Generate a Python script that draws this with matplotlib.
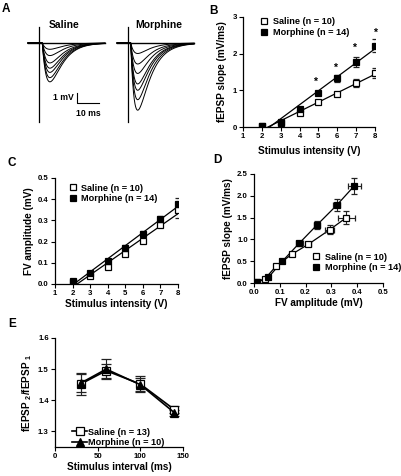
import matplotlib.pyplot as plt
import numpy as np

plt.rcParams['font.family'] = ['Liberation Sans', 'DejaVu Sans']
plt.rcParams['font.weight'] = 'bold'
plt.rcParams['axes.labelweight'] = 'bold'
plt.rcParams['mathtext.fontset'] = 'custom'
plt.rcParams['mathtext.rm'] = 'Liberation Sans:bold'
plt.rcParams['mathtext.bf'] = 'Liberation Sans:bold'

# A - peak amplitude of each example fEPSP trace (mV)
saline_peaks = [0.6, 1.2, 1.9, 2.4, 2.8, 3.3, 3.7]
morphine_peaks = [1.0, 2.0, 2.9, 3.9, 4.5, 5.4, 6.4]

# B / C - input-output curves
stim = [2, 3, 4, 5, 6, 7, 8]
slope_sal = [0.02, 0.10, 0.38, 0.67, 0.90, 1.20, 1.48]
slope_sal_err = [0.03, 0.03, 0.04, 0.04, 0.05, 0.10, 0.14]
slope_mor = [0.02, 0.15, 0.50, 0.92, 1.33, 1.78, 2.22]
slope_mor_err = [0.03, 0.03, 0.05, 0.06, 0.10, 0.14, 0.18]
star_x = [4.8, 5.9, 6.9, 8.0]
star_y = [1.22, 1.62, 2.16, 2.56]

fv_sal = [0.010, 0.040, 0.082, 0.143, 0.205, 0.280, 0.348]
fv_sal_err = [0.004, 0.005, 0.007, 0.008, 0.008, 0.012, 0.035]
fv_mor = [0.013, 0.054, 0.108, 0.168, 0.238, 0.307, 0.378]
fv_mor_err = [0.004, 0.005, 0.007, 0.014, 0.010, 0.014, 0.026]

# D - slope vs FV
d_fv_sal = [0.010, 0.043, 0.086, 0.147, 0.211, 0.293, 0.358]
d_fv_sal_err = [0.005, 0.006, 0.008, 0.008, 0.010, 0.017, 0.032]
d_sl_sal = [0.02, 0.10, 0.39, 0.66, 0.89, 1.22, 1.50]
d_fv_mor = [0.012, 0.056, 0.110, 0.175, 0.244, 0.320, 0.389]
d_fv_mor_err = [0.005, 0.006, 0.008, 0.014, 0.012, 0.014, 0.026]
d_sl_mor = [0.02, 0.13, 0.50, 0.91, 1.33, 1.78, 2.23]

# E - paired pulse ratio
interval = [30, 60, 100, 140]
ppr_sal = [1.452, 1.495, 1.452, 1.370]
ppr_sal_err = [0.035, 0.022, 0.025, 0.012]
ppr_mor = [1.455, 1.500, 1.450, 1.360]
ppr_mor_err = [0.030, 0.032, 0.020, 0.010]

W, H = 401, 476
fig = plt.figure(figsize=(W / 100, H / 100), dpi=100)


def px_axes(l, t, r, b):
    return fig.add_axes([l / W, 1 - b / H, (r - l) / W, (b - t) / H])


def style(ax):
    ax.spines['top'].set_visible(False)
    ax.spines['right'].set_visible(False)
    ax.spines['left'].set_linewidth(0.9)
    ax.spines['bottom'].set_linewidth(0.9)
    ax.tick_params(labelsize=5.6, length=3, width=0.8, pad=1.5)


ls = 7.2  # axis label size
lg = 6.6  # legend size
sal_kw = dict(fmt='s', ms=5, mfc='white', mec='black', mew=0.9, ecolor='#222222',
              elinewidth=0.8, capsize=2, capthick=0.8, zorder=3)
mor_kw = dict(fmt='s', ms=5, mfc='black', mec='black', mew=0.9, ecolor='#222222',
              elinewidth=0.8, capsize=2, capthick=0.8, zorder=3)


def fit_line(ax, x, y):
    m, b = np.polyfit(x, y, 1)
    xs = np.array([-b / m, 8])
    ax.plot(xs, m * xs + b, color='black', lw=0.9, zorder=2)


# ---- A: example traces
axA = px_axes(20, 20, 200, 125)
axA.set_xlim(-8.64, 73.2)
axA.set_ylim(-7.81, 2.19)
axA.axis('off')
t = np.linspace(-5, 30, 500)
for offset, peaks, t0, tr, td in [(0, saline_peaks, 1.5, 2.5, 5.0),
                                  (40.5, morphine_peaks, 1.2, 2.0, 5.5)]:
    tt = np.clip(t - t0, 0, None)
    g = np.exp(-tt / td) - np.exp(-tt / tr)
    g = g / g.max()
    axA.plot(t + offset, np.zeros_like(t), color='black', lw=1.0)
    for a in peaks:
        axA.plot(t + offset, -a * g, color='black', lw=0.7)
    axA.plot([offset, offset], [1.5, -7.5], color='black', lw=0.9)
axA.text(11.4, 1.7, 'Saline', ha='center', va='center', fontsize=7.5)
axA.text(54.5, 1.7, 'Morphine', ha='center', va='center', fontsize=7.5)
axA.plot([17.3, 17.3, 27.3], [-4.75, -5.75, -5.75], color='black', lw=0.8)
axA.text(16.0, -5.2, '1 mV', ha='right', va='center', fontsize=6.2)
axA.text(22.3, -6.3, '10 ms', ha='center', va='top', fontsize=6.2)

# ---- B: fEPSP slope vs stimulus
axB = px_axes(243, 17, 375, 127)
fit_line(axB, stim, slope_sal)
fit_line(axB, stim, slope_mor)
axB.errorbar(stim, slope_sal, yerr=slope_sal_err, label='Saline (n = 10)', **sal_kw)
axB.errorbar(stim, slope_mor, yerr=slope_mor_err, label='Morphine (n = 14)', **mor_kw)
for x, y in zip(star_x, star_y):
    axB.text(x, y, '*', ha='center', va='center', fontsize=7.5)
axB.set_xlim(1, 8)
axB.set_ylim(0, 3)
axB.set_xticks(range(1, 9))
axB.set_yticks([0, 1, 2, 3])
axB.set_xlabel('Stimulus intensity (V)', fontsize=ls, labelpad=4)
axB.set_ylabel('fEPSP slope (mV/ms)', fontsize=ls, labelpad=4)
style(axB)
h, l = axB.get_legend_handles_labels()
axB.legend([x[0] for x in h], l, loc='upper left', bbox_to_anchor=(0.1, 1.04), frameon=False,
           fontsize=lg, handlelength=0.8, handletextpad=0.5, borderpad=0, labelspacing=0.25)

# ---- C: FV amplitude vs stimulus
axC = px_axes(55, 178, 178, 284)
fit_line(axC, stim, fv_sal)
fit_line(axC, stim, fv_mor)
axC.errorbar(stim, fv_sal, yerr=fv_sal_err, label='Saline (n = 10)', **sal_kw)
axC.errorbar(stim, fv_mor, yerr=fv_mor_err, label='Morphine (n = 14)', **mor_kw)
axC.set_xlim(1, 8)
axC.set_ylim(0, 0.5)
axC.set_xticks(range(1, 9))
axC.set_yticks(np.arange(0, 0.51, 0.1))
axC.yaxis.set_major_formatter(plt.FormatStrFormatter('%.1f'))
axC.set_xlabel('Stimulus intensity (V)', fontsize=ls, labelpad=1)
axC.set_ylabel('FV amplitude (mV)', fontsize=ls, labelpad=3)
style(axC)
h, l = axC.get_legend_handles_labels()
axC.legend([x[0] for x in h], l, loc='upper left', bbox_to_anchor=(0.08, 0.99), frameon=False,
           fontsize=lg, handlelength=0.8, handletextpad=0.5, borderpad=0, labelspacing=0.15)

# ---- D: slope vs FV
axD = px_axes(254, 174, 383, 283)
axD.plot(d_fv_sal, d_sl_sal, color='black', lw=0.9, zorder=2)
axD.plot(d_fv_mor, d_sl_mor, color='black', lw=0.9, zorder=2)
axD.errorbar(d_fv_sal, d_sl_sal, xerr=d_fv_sal_err, yerr=slope_sal_err, label='Saline (n = 10)', **sal_kw)
axD.errorbar(d_fv_mor, d_sl_mor, xerr=d_fv_mor_err, yerr=slope_mor_err, label='Morphine (n = 14)', **mor_kw)
axD.set_xlim(0, 0.5)
axD.set_ylim(0, 2.5)
axD.set_xticks(np.arange(0, 0.51, 0.1))
axD.set_yticks(np.arange(0, 2.51, 0.5))
axD.xaxis.set_major_formatter(plt.FormatStrFormatter('%.1f'))
axD.yaxis.set_major_formatter(plt.FormatStrFormatter('%.1f'))
axD.set_xlabel('FV amplitude (mV)', fontsize=ls, labelpad=1)
axD.set_ylabel('fEPSP slope (mV/ms)', fontsize=ls, labelpad=3)
style(axD)
h, l = axD.get_legend_handles_labels()
axD.legend([x[0] for x in h], l, loc='upper left', bbox_to_anchor=(0.42, 0.32), frameon=False,
           fontsize=lg, handlelength=0.8, handletextpad=0.5, borderpad=0, labelspacing=0.15)

# ---- E: paired pulse
axE = px_axes(55, 338, 183, 447)
axE.errorbar(interval, ppr_sal, yerr=ppr_sal_err, fmt='-s', color='black', ms=5.5, mfc='white',
             mec='black', mew=0.9, lw=1.2, elinewidth=0.8, capsize=3.5, capthick=0.8,
             ecolor='#222222', label='Saline (n = 13)', zorder=3)
axE.errorbar(interval, ppr_mor, yerr=ppr_mor_err, fmt='-^', color='black', ms=5.5, mfc='black',
             mec='black', mew=0.9, lw=1.2, elinewidth=0.8, capsize=3.5, capthick=0.8,
             ecolor='#222222', label='Morphine (n = 10)', zorder=3)
axE.set_xlim(0, 150)
axE.set_ylim(1.25, 1.6)
axE.set_xticks([0, 50, 100, 150])
axE.set_yticks([1.3, 1.4, 1.5, 1.6])
axE.set_xlabel('Stimulus interval (ms)', fontsize=ls, labelpad=1)
axE.set_ylabel(r'fEPSP $_\mathbf{2}$/fEPSP $_\mathbf{1}$', fontsize=ls, labelpad=3)
style(axE)
h, l = axE.get_legend_handles_labels()
axE.legend([x[0] for x in h], l, loc='upper left', bbox_to_anchor=(0.1, 0.22), frameon=False,
           fontsize=lg, handlelength=1.6, handletextpad=0.1, borderpad=0, labelspacing=0.15)

# panel letters
for letter, x, y in [('A', 6, 9), ('B', 213, 11), ('C', 12, 163), ('D', 217, 160), ('E', 12, 324)]:
    fig.text(x / W, 1 - y / H, letter, fontsize=8.5, fontweight='bold', ha='center', va='center')

fig.savefig('out.png', dpi=100)
